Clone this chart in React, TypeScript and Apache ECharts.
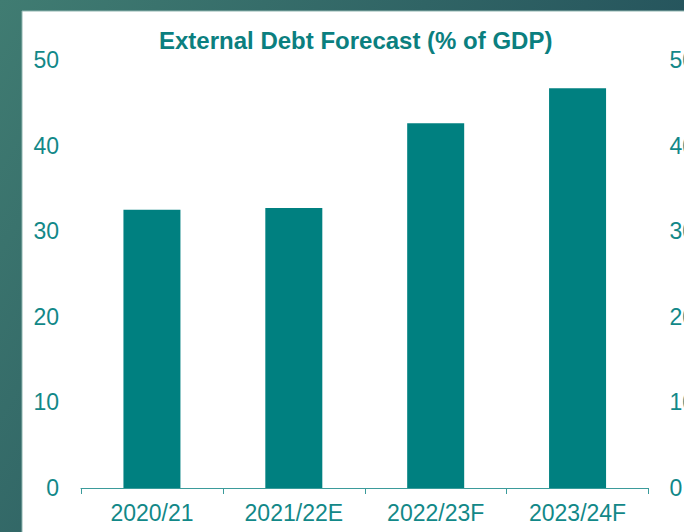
import React, { useEffect, useRef } from "react";
import * as echarts from "echarts";

const categories = ["2020/21", "2021/22E", "2022/23F", "2023/24F"];
const debtValues = [32.5, 32.7, 42.6, 46.7];
const yTicks = [0, 10, 20, 30, 40, 50];

export default function App() {
  const ref = useRef<HTMLDivElement>(null);
  useEffect(() => {
    document.body.style.margin = "0";
    const chart = echarts.init(ref.current!, null, { renderer: "svg" });
    const font = "'Liberation Sans', Arial, sans-serif";
    const labelColor = "#128888";
    chart.setOption({
      animation: false,
      backgroundColor: {
        type: "linear",
        x: 0,
        y: 0,
        x2: 1,
        y2: 0.5,
        colorStops: [
          { offset: 0, color: "#407c72" },
          { offset: 1, color: "#204c58" },
        ],
      },
      graphic: [
        {
          type: "rect",
          z: -1,
          shape: { x: 22, y: 11, width: 700, height: 540 },
          style: { fill: "#ffffff", stroke: "#8fb5b0", lineWidth: 1 },
        },
      ],
      title: {
        text: "External Debt Forecast (% of GDP)",
        left: 154,
        top: 23,
        textStyle: {
          color: "#0b7f7f",
          fontFamily: font,
          fontWeight: "bold",
          fontSize: 24,
        },
      },
      grid: {
        left: 81,
        right: 35.5,
        top: 60,
        bottom: 44,
        containLabel: false,
        outerBoundsMode: "none",
      },
      xAxis: {
        type: "category",
        data: categories,
        axisLine: { lineStyle: { color: "#3b9b9b", width: 1 } },
        axisTick: { show: true, length: 6, lineStyle: { color: "#3b9b9b" } },
        axisLabel: {
          color: labelColor,
          fontFamily: font,
          fontSize: 23,
          margin: 13,
        },
      },
      yAxis: [
        {
          type: "value",
          min: yTicks[0],
          max: yTicks[yTicks.length - 1],
          interval: 10,
          position: "left",
          splitLine: { show: false },
          axisLine: { show: false },
          axisTick: { show: false },
          axisLabel: {
            color: labelColor,
            fontFamily: font,
            fontSize: 23,
            margin: 22,
          },
        },
        {
          type: "value",
          min: yTicks[0],
          max: yTicks[yTicks.length - 1],
          interval: 10,
          position: "right",
          splitLine: { show: false },
          axisLine: { show: false },
          axisTick: { show: false },
          axisLabel: {
            color: labelColor,
            fontFamily: font,
            fontSize: 23,
            margin: 21,
          },
        },
      ],
      series: [
        {
          type: "bar",
          data: debtValues,
          barWidth: 57,
          itemStyle: { color: "#008080" },
        },
      ],
    });
    return () => chart.dispose();
  }, []);
  return (
    <div
      ref={ref}
      style={{ position: "fixed", left: 0, top: 0, width: 684, height: 532 }}
    />
  );
}
